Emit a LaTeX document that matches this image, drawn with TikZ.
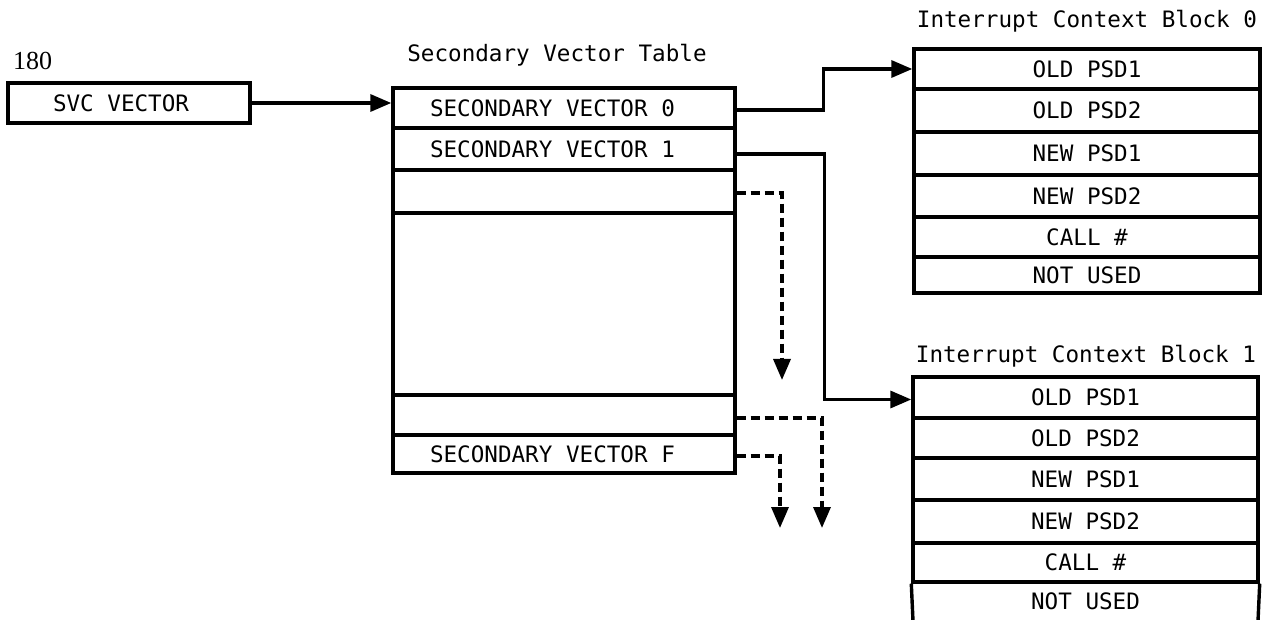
\documentclass[tikz,border=0pt]{standalone}
\usepackage{fontspec}
\newfontfamily\monof{DejaVu Sans Mono}
\newfontfamily\serf{Liberation Serif}
\usetikzlibrary{arrows.meta}
\newcommand\svtxt[2]{\makebox[#1][l]{#2}}
\begin{document}
\begin{tikzpicture}[x=1pt,y=-1pt,
  txt/.style={font=\monof\fontsize{22.6}{26}\selectfont, inner sep=0pt},
  cell/.style={txt, draw, line width=3.4pt},
  svrow/.style={cell, minimum width=342pt},
  icrow/.style={cell, minimum width=346pt},
  conn/.style={line width=3.4pt, -{Triangle[length=21pt,width=17pt]}},
  dconn/.style={conn, dash pattern=on 9pt off 5pt}]
\useasboundingbox (0,0) rectangle (1270,620);

% label 180 and SVC vector
\node[font=\serf\fontsize{26}{30}\selectfont, inner sep=0pt, anchor=base west] (lbl) at (13,70) {180};
\node[cell, minimum width=242pt, minimum height=40pt] (svc) at (129,103) {\svtxt{152pt}{SVC VECTOR}};

% secondary vector table
\node[txt, anchor=base] (svtitle) at (557,62) {Secondary Vector Table};
\node[svrow, minimum height=40pt] (sv0) at (564,108) {\svtxt{268pt}{SECONDARY VECTOR 0}};
\node[svrow, minimum height=42pt] (sv1) at (564,149) {\svtxt{268pt}{SECONDARY VECTOR 1}};
\node[svrow, minimum height=43pt] (sv2) at (564,191.5) {};
\node[svrow, minimum height=182pt] (sv3) at (564,304) {};
\node[svrow, minimum height=40pt] (sv4) at (564,415) {};
\node[svrow, minimum height=38pt] (svf) at (564,454) {\svtxt{268pt}{SECONDARY VECTOR F}};

% interrupt context block 0
\node[txt, anchor=base] (t0) at (1087,28) {Interrupt Context Block 0};
\node[icrow, minimum height=40pt] (a1) at (1087,69) {OLD PSD1};
\node[icrow, minimum height=43pt] (a2) at (1087,110.5) {OLD PSD2};
\node[icrow, minimum height=43pt] (a3) at (1087,153.5) {NEW PSD1};
\node[icrow, minimum height=42pt] (a4) at (1087,196) {NEW PSD2};
\node[icrow, minimum height=40pt] (a5) at (1087,237) {CALL \#};
\node[icrow, minimum height=36pt] (a6) at (1087,275) {NOT USED};

% interrupt context block 1
\node[txt, anchor=base] (t1) at (1086,363) {Interrupt Context Block 1};
\node[icrow, minimum width=345pt, minimum height=41pt] (b1) at (1085.5,397.5) {OLD PSD1};
\node[icrow, minimum width=345pt, minimum height=40pt] (b2) at (1085.5,438) {OLD PSD2};
\node[icrow, minimum width=345pt, minimum height=42pt] (b3) at (1085.5,479) {NEW PSD1};
\node[icrow, minimum width=345pt, minimum height=43pt] (b4) at (1085.5,521.5) {NEW PSD2};
\node[icrow, minimum width=345pt, minimum height=39pt] (b5) at (1085.5,562.5) {CALL \#};
\node[txt] (b6) at (1085.5,601) {NOT USED};
\coordinate (b6l) at (913,621);
\coordinate (b6r) at (1258,621);
\draw[line width=3.4pt] (b5.south west) -- (b6l);
\draw[line width=3.4pt] (b5.south east) -- (b6r);

% connectors
\draw[conn] (svc.east) -- (svc.east -| sv0.west);
\draw[conn] ([yshift=-2pt]sv0.east) -- ++(87,0) |- (a1.west);
\draw[conn] ([yshift=-5pt]sv1.east) -- ++(88,0) |- ([yshift=-2pt]b1.west);
\coordinate (e1) at (782,380);
\coordinate (e2) at (822,528);
\coordinate (e3) at (780,528);
\draw[dconn] ([yshift=-1.5pt]sv2.east) -| (e1);
\draw[dconn] ([yshift=-3pt]sv4.east) -| (e2);
\draw[dconn] ([yshift=-2pt]svf.east) -| (e3);
\end{tikzpicture}
\end{document}
